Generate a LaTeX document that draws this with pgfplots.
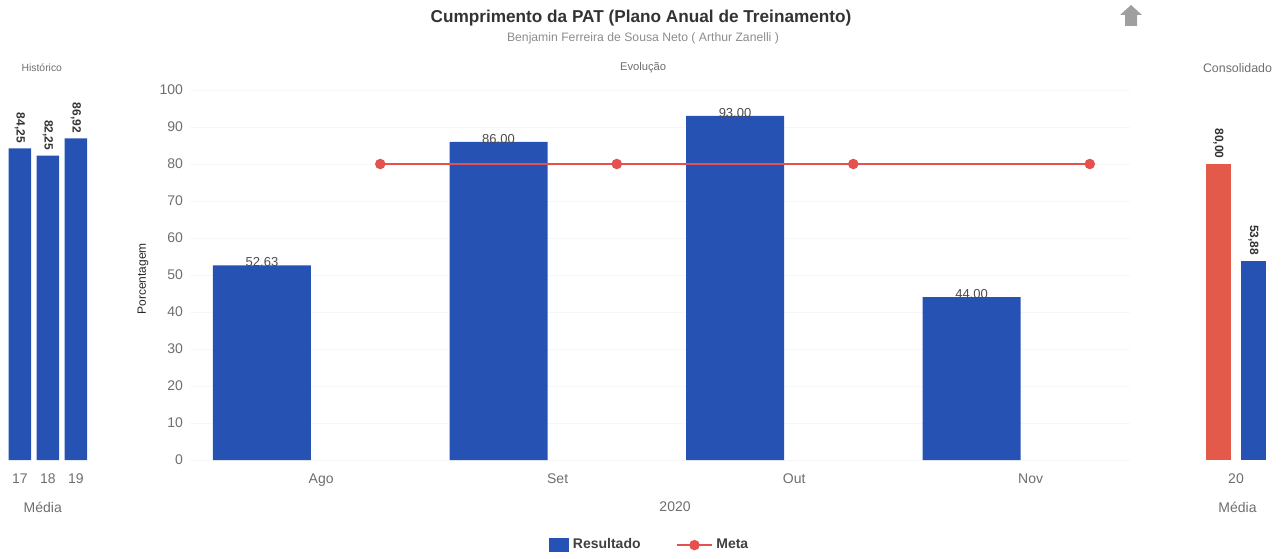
\documentclass[border=0pt]{standalone}
\usepackage{pgfplots}
\pgfplotsset{compat=1.18}
\usepackage{fontspec}
\setmainfont{Liberation Sans}
\definecolor{barblue}{RGB}{38,82,180}
\definecolor{metared}{RGB}{228,82,80}
\definecolor{consred}{RGB}{228,90,74}
\definecolor{ticklab}{RGB}{110,110,110}
\begin{document}
\begin{tikzpicture}[x=1pt,y=1pt]
\useasboundingbox (0,0) rectangle (640.5,279);
\pgfplotsset{
  every axis title shift=0pt,
  common/.style={
    scale only axis, height=185pt, ymin=0, ymax=100,
    axis line style={draw=none}, tick style={draw=none},
    /pgf/number format/assume math mode=true,
    ticklabel style={font=\fontsize{7}{8}\selectfont, text=ticklab},
    xticklabel style={yshift=-3.5pt},
    title style={text=ticklab, at={(0.5,1.06)}, anchor=center},
    clip=false,
  },
  rotlab/.style={
    nodes near coords={\pgfmathprintnumber[fixed,fixed zerofill,precision=2,use comma]{\pgfplotspointmeta}},
    nodes near coords style={font=\bfseries\fontsize{6}{7}\selectfont, text=black!80, rotate=-90, anchor=east, inner xsep=2.5pt, inner ysep=0pt},
  },
}
% Main axis
\begin{axis}[common,
  at={(95pt,49pt)}, anchor=south west, width=470pt,
  xmin=-0.3044, xmax=3.67,
  xtick={0.25,1.25,2.25,3.25}, xticklabels={Ago,Set,Out,Nov},
  ytick={0,10,...,100},
  ymajorgrids, grid style={gray!6, line width=0.4pt},
  title={Evolução}, title style={at={(0.482,1.06)}, font=\fontsize{5.6}{6.5}\selectfont},
  xlabel={2020}, xlabel style={font=\fontsize{7}{8}\selectfont, text=ticklab, at={(axis description cs:0.516,-0.127)}, anchor=center},
  ylabel={Porcentagem}, ylabel style={font=\fontsize{6}{7}\selectfont, text=black!85, at={(axis description cs:-0.05,0.49)}, anchor=center, rotate=0},
  legend columns=2,
  legend style={at={(rel axis cs:0.49,-0.23)}, anchor=center, draw=none, fill=none,
    font=\bfseries\fontsize{7}{8}\selectfont, text=black!75,
    /tikz/every even column/.append style={column sep=16pt}},
]
\addplot[ybar, bar width=49pt, bar shift=0pt, fill=barblue, draw=none,
  nodes near coords={\pgfmathprintnumber[fixed,fixed zerofill,precision=2]{\pgfplotspointmeta}},
  nodes near coords style={font=\fontsize{6.5}{7}\selectfont, text=black!70, anchor=south, inner sep=0.5pt, yshift=-1.5pt},
  legend image code/.code={\fill[barblue] (0pt,-3.5pt) rectangle (10pt,3.5pt);}]
  coordinates {(0,52.63) (1,86.00) (2,93.00) (3,44.00)};
\addlegendentry{Resultado}
\addplot[color=metared, line width=0.8pt, mark=*, mark size=2.2pt, mark options={fill=metared, draw=metared}]
  coordinates {(0.5,80) (1.5,80) (2.5,80) (3.5,80)};
\addlegendentry{Meta}
\end{axis}
% Left axis: Historico
\begin{axis}[common,
  at={(0pt,49pt)}, anchor=south west, width=47.5pt,
  xmin=16.286, xmax=19.68, xtick={17,18,19},
  ytick=\empty,
  title={Histórico}, title style={at={(0.44,1.06)}, font=\fontsize{5.2}{6}\selectfont},
  xlabel={Média}, xlabel style={font=\fontsize{7}{8}\selectfont, text=ticklab, at={(axis description cs:0.45,-0.127)}, anchor=center},
]
\addplot[ybar, bar width=11.25pt, bar shift=0pt, fill=barblue, draw=none, rotlab]
  coordinates {(17,84.25) (18,82.25) (19,86.92)};
\end{axis}
% Right axis: Consolidado
\begin{axis}[common,
  at={(597.5pt,49pt)}, anchor=south west, width=42.5pt,
  xmin=18.829, xmax=21.257, xtick={20},
  ytick=\empty,
  title={Consolidado}, title style={font=\fontsize{6.2}{7}\selectfont},
  xlabel={Média}, xlabel style={font=\fontsize{7}{8}\selectfont, text=ticklab, at={(axis description cs:0.5,-0.127)}, anchor=center},
]
\addplot[ybar, bar width=12.5pt, bar shift=0pt, fill=consred, draw=none, rotlab]
  coordinates {(19.5,80.00)};
\addplot[ybar, bar width=12.5pt, bar shift=0pt, fill=barblue, draw=none, rotlab]
  coordinates {(20.5,53.88)};
\end{axis}
% Titles
\node[font=\bfseries\fontsize{8.6}{10}\selectfont, text=black!80] at (320.5,270) {Cumprimento da PAT (Plano Anual de Treinamento)};
\node[font=\fontsize{6.1}{7}\selectfont, text=black!45] at (321.5,260) {Benjamin Ferreira de Sousa Neto ( Arthur Zanelli )};
% home/up icon
\fill[gray!75] (565.5,276.5) -- (571,271.5) -- (568.5,271.5) -- (568.5,266) -- (562.5,266) -- (562.5,271.5) -- (560,271.5) -- cycle;
\end{tikzpicture}
\end{document}
